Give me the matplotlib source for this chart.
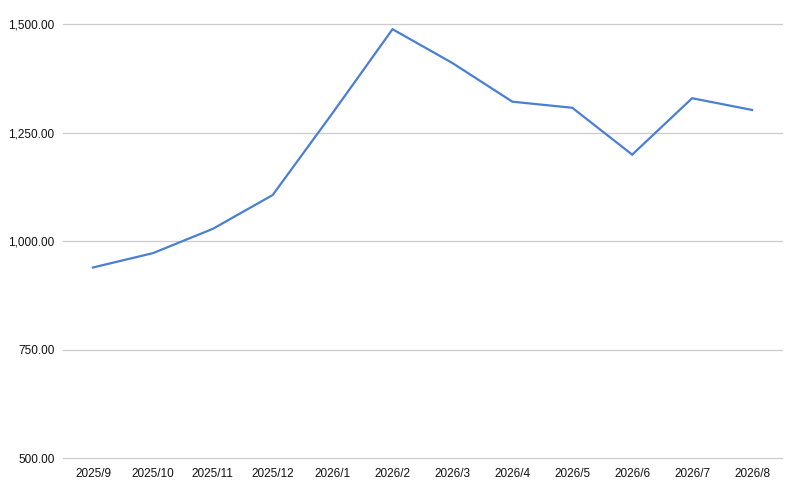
import matplotlib.pyplot as plt

# monthly values
months = ['2025/9', '2025/10', '2025/11', '2025/12', '2026/1', '2026/2',
          '2026/3', '2026/4', '2026/5', '2026/6', '2026/7', '2026/8']
values = [939, 972, 1028, 1106, 1295, 1488, 1410, 1321, 1307, 1199, 1329, 1302]
y_ticks = [500, 750, 1000, 1250, 1500]

plt.rcParams['font.family'] = ['Liberation Sans', 'DejaVu Sans']

fig = plt.figure(figsize=(8, 4.95), dpi=100)
ax = fig.add_axes([0.07875, 0.0747, 0.89875, 0.8768])

x = range(len(months))
ax.plot(x, values, color='#4a7fd4', linewidth=1.6, solid_joinstyle='miter')

ax.set_xlim(-0.5, len(months) - 0.5)
ax.set_ylim(500, 1500)
ax.set_xticks(list(x))
ax.set_xticklabels(months)
ax.set_yticks(y_ticks)
ax.set_yticklabels([f'{v:,.2f}' for v in y_ticks])

ax.grid(axis='y', color='#cccccc', linewidth=0.9)
for gl in ax.get_ygridlines():
    gl.set_clip_on(False)
ax.set_axisbelow(True)
for s in ax.spines.values():
    s.set_visible(False)
ax.tick_params(axis='both', length=0, labelsize=8.5, colors='#111111')
ax.tick_params(axis='x', pad=7)
ax.tick_params(axis='y', pad=6)

fig.savefig('out.png', dpi=100)
